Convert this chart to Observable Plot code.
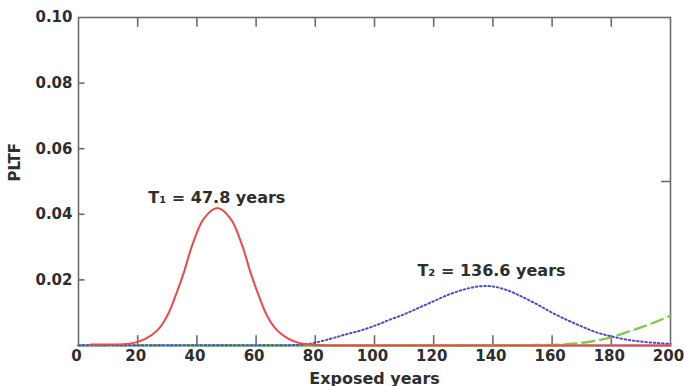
<!DOCTYPE html>
<html>
<head>
<meta charset="utf-8">
<script src="https://cdn.jsdelivr.net/npm/d3@7"></script>
<script src="https://cdn.jsdelivr.net/npm/@observablehq/plot@0.6"></script>
<style>
  html, body { margin: 0; padding: 0; background: #fff; }
  #chart svg { display: block; }
</style>
</head>
<body>
<div id="chart"></div>
<script>
// ---- data ----
const redYears   = [4, 10, 15, 18.7, 22.6, 26.6, 30.0, 32.8, 35.6, 38.4, 42.3, 46.9, 51.4, 55.3, 58.1, 60.9, 63.7, 67.1, 71.0, 74.4, 78, 82, 90, 100, 120, 140, 160, 180, 200];
const redValues  = [0.0003, 0.0003, 0.0004, 0.0008, 0.0020, 0.0046, 0.0091, 0.0152, 0.0223, 0.0305, 0.0386, 0.0419, 0.0386, 0.0305, 0.0223, 0.0152, 0.0091, 0.0046, 0.0020, 0.0008, 0.0003, 0.0001, 0, 0, 0, 0, 0, 0, 0];

const blueYears  = [0, 20, 40, 60, 75, 78, 85, 90, 95, 100, 105, 110, 115, 120, 125, 130, 135, 140, 145, 150, 155, 160, 165, 170, 175, 180, 185, 190, 195, 200];
const blueValues = [0.0001, 0.0001, 0.0001, 0.0001, 0.0002, 0.0005, 0.002, 0.0033, 0.0045, 0.006, 0.0078, 0.0095, 0.0115, 0.0135, 0.0155, 0.017, 0.018, 0.018, 0.0168, 0.0148, 0.0125, 0.010, 0.0078, 0.0058, 0.004, 0.0028, 0.0018, 0.0012, 0.0008, 0.0005];

const greenYears  = [0, 40, 80, 120, 160, 165, 170, 175, 180, 185, 190, 195, 200];
const greenValues = [0, 0, 0, 0, 0.0002, 0.0004, 0.0008, 0.0015, 0.0025, 0.004, 0.0055, 0.0072, 0.0091];
const greenBaseYears  = [39, 165];
const greenBaseValues = [0, 0];

const cyanYears  = [0, 200];
const cyanValues = [0, 0];

const xTicks = [0, 20, 40, 60, 80, 100, 120, 140, 160, 180, 200];
const yTicks = [0.02, 0.04, 0.06, 0.08, 0.10];
const innerXTicks = [20, 40, 60, 80, 100, 120, 140, 160, 180];
const innerYTicks = [0.02, 0.04, 0.06, 0.08];
const rightYTicks = [0.05];

const notes = [
  {x: 23.6, y: 0.0451, text: "T\u2081 = 47.8 years"},
  {x: 114.5, y: 0.0227, text: "T\u2082 = 136.6 years"}
];

const toRows = (xs, ys) => xs.map((x, i) => ({x, y: ys[i]}));
const red = toRows(redYears, redValues);
const blue = toRows(blueYears, blueValues);
const green = toRows(greenYears, greenValues);
const greenBase = toRows(greenBaseYears, greenBaseValues);
const cyan = toRows(cyanYears, cyanValues);

const gray = "#6b6b6b";
const ink = "#2e2e2e";
const font = "'DejaVu Sans', sans-serif";

const chart = Plot.plot({
  width: 684,
  height: 386,
  marginLeft: 78,
  marginRight: 14,
  marginTop: 17,
  marginBottom: 41,
  style: {fontFamily: font, fontWeight: 700, fontSize: "15px", color: ink, background: "#fff"},
  x: {domain: [0, 200]},
  y: {domain: [0, 0.1]},
  marks: [
    Plot.frame({stroke: gray, strokeWidth: 1.6}),
    Plot.axisX({ticks: xTicks, tickSize: 0, tickPadding: 5, dx: -2, label: null, fontSize: 15, fontWeight: 700}),
    Plot.axisY({ticks: yTicks, tickSize: 0, tickPadding: 6, tickFormat: d3.format(".2f"), label: null, fontSize: 15, fontWeight: 700}),
    Plot.ruleX(innerXTicks, {x: d => d, y1: 0, y2: 0.003, stroke: gray, strokeWidth: 1.6}),
    Plot.ruleX(innerXTicks, {x: d => d, y1: 0.1, y2: 0.097, stroke: gray, strokeWidth: 1.6}),
    Plot.ruleY(innerYTicks, {y: d => d, x1: 0, x2: 2.2, stroke: gray, strokeWidth: 1.6}),
    Plot.ruleY(rightYTicks, {y: d => d, x1: 200, x2: 197, stroke: gray, strokeWidth: 1.6}),
    Plot.line(cyan, {x: "x", y: "y", stroke: "#5cc8ea", strokeWidth: 2.2}),
    Plot.line(greenBase, {x: "x", y: "y", stroke: "#7dcc4e", strokeWidth: 2.2}),
    Plot.line(green, {x: "x", y: "y", stroke: "#7dcc4e", strokeWidth: 2.4, strokeDasharray: "12,6", curve: "monotone-x"}),
    Plot.line(blue, {x: "x", y: "y", stroke: "#4b4fc4", strokeWidth: 2, strokeDasharray: "1.6,2.6", curve: "catmull-rom"}),
    Plot.line(red, {x: "x", y: "y", stroke: "#f04848", strokeWidth: 2, curve: "catmull-rom"}),
    Plot.text(notes, {x: "x", y: "y", text: "text", textAnchor: "start", fontSize: 16, fontWeight: 700, fill: ink, fontFamily: font}),
    Plot.text(["Exposed years"], {frameAnchor: "bottom", dy: 38, text: d => d, fontSize: 16, fontWeight: 700, fill: ink, fontFamily: font}),
    Plot.text(["PLTF"], {frameAnchor: "left", dx: -63, rotate: -90, text: d => d, fontSize: 15, fontWeight: 700, fill: ink, fontFamily: font})
  ]
});
document.getElementById("chart").appendChild(chart);
</script>
</body>
</html>
